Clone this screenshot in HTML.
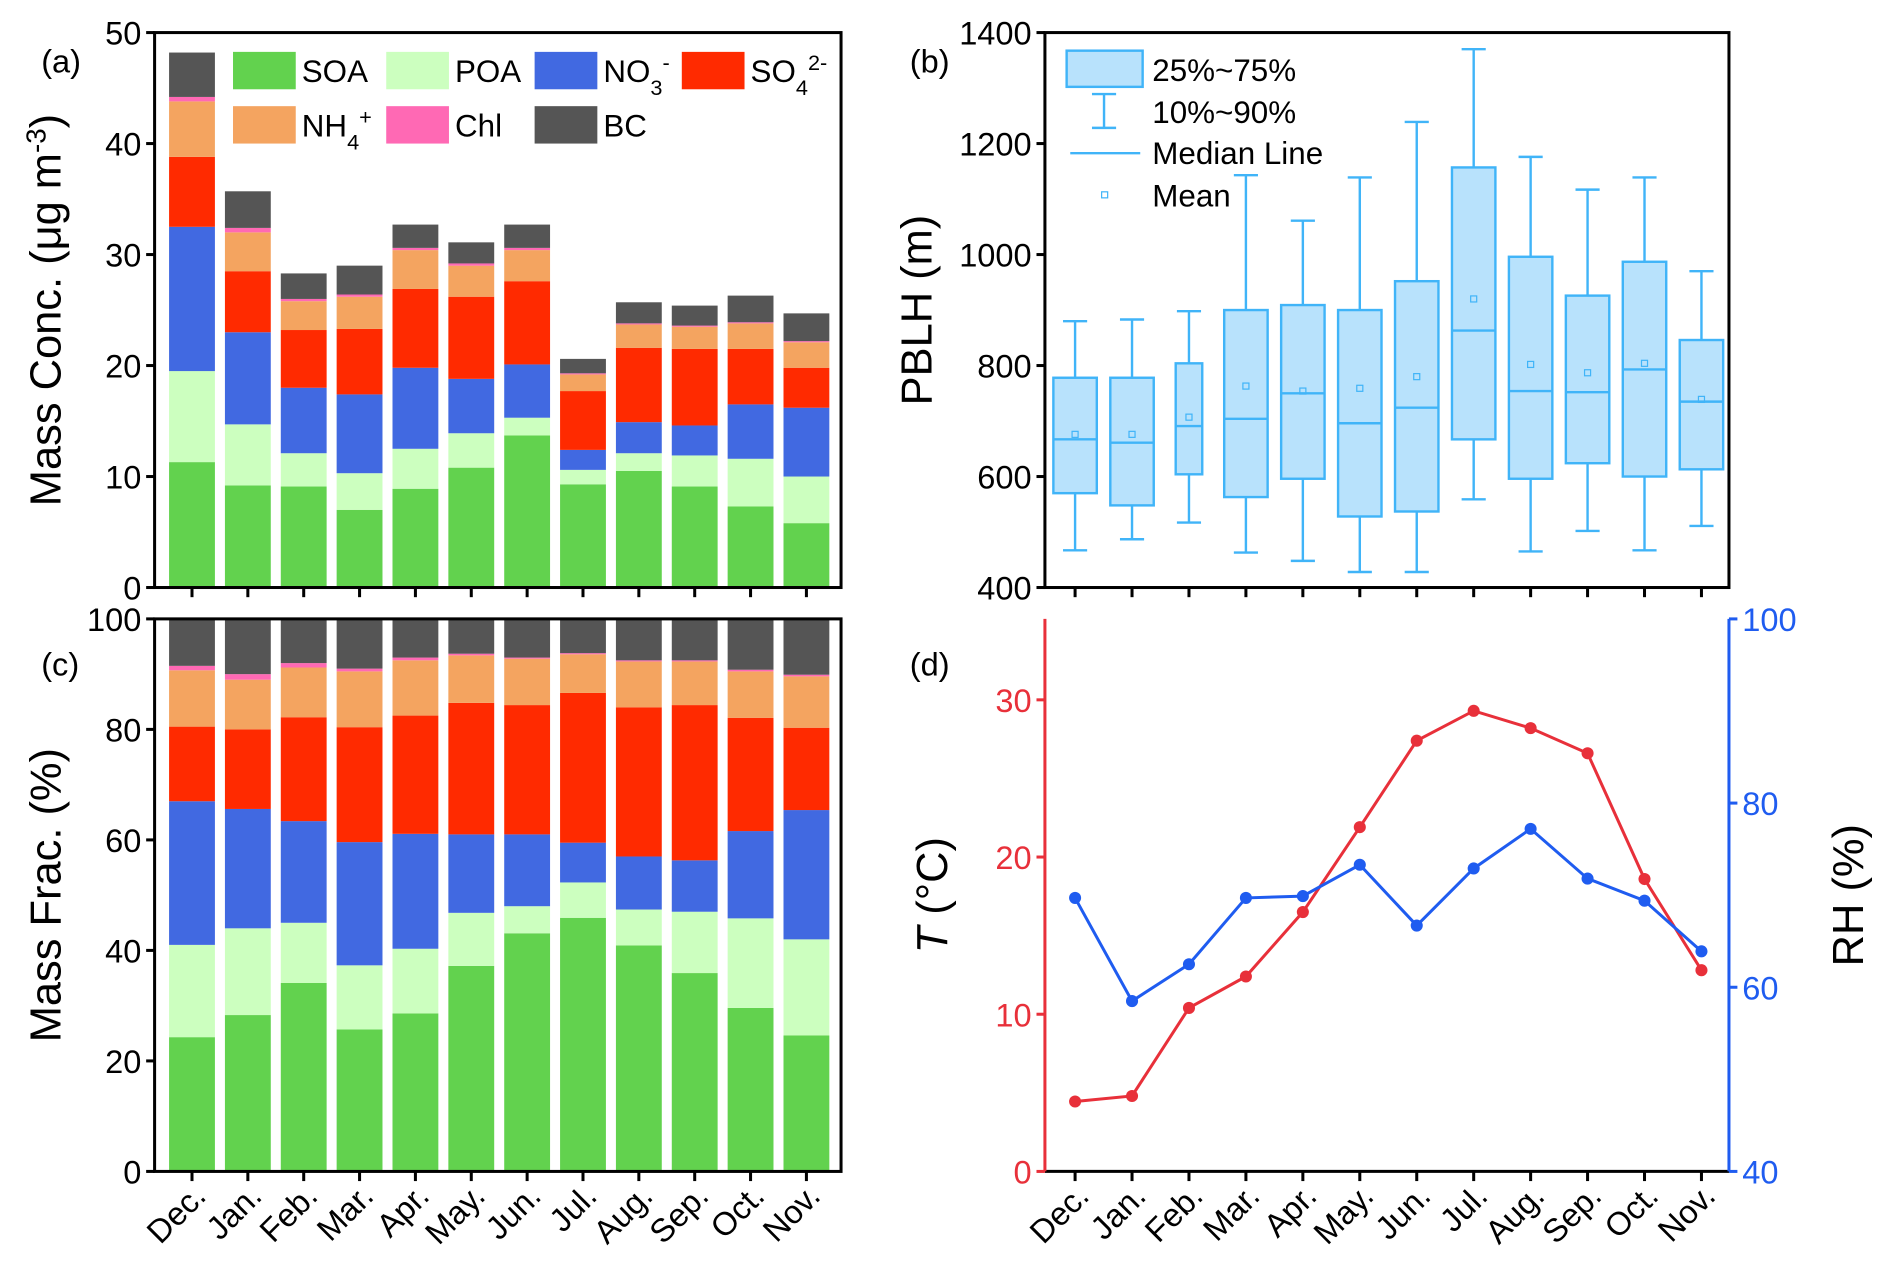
<!DOCTYPE html>
<html><head><meta charset="utf-8"><style>
html,body{margin:0;padding:0;background:#fff;}
svg{display:block;font-family:"Liberation Sans",Arial,sans-serif;}
</style></head><body>
<svg id="chart" width="1892" height="1280" viewBox="0 0 1568 1061" xmlns="http://www.w3.org/2000/svg"></svg>
<script>
const months=["Dec.","Jan.","Feb.","Mar.","Apr.","May.","Jun.","Jul.","Aug.","Sep.","Oct.","Nov."];
const compNames=["SOA","POA","NO3","SO4","NH4","Chl","BC"];
const concSOA=[11.3,9.2,9.1,7.0,8.9,10.8,13.7,9.3,10.5,9.1,7.3,5.8];
const concPOA=[8.2,5.5,3.0,3.3,3.6,3.1,1.6,1.3,1.6,2.8,4.3,4.2];
const concNO3=[13.0,8.3,5.9,7.1,7.3,4.9,4.8,1.8,2.8,2.7,4.9,6.2];
const concSO4=[6.3,5.5,5.2,5.9,7.1,7.4,7.5,5.3,6.7,6.9,5.0,3.6];
const concNH4=[5.0,3.5,2.6,2.9,3.5,2.8,2.8,1.5,2.1,2.0,2.3,2.3];
const concChl=[0.4,0.4,0.2,0.2,0.2,0.2,0.2,0.1,0.1,0.1,0.1,0.1];
const concBC=[4.0,3.3,2.3,2.6,2.1,1.9,2.1,1.3,1.9,1.8,2.4,2.5];
const fracSOA=[24.3,28.3,34.1,25.7,28.6,37.2,43.1,45.9,40.9,35.9,29.6,24.6];
const fracPOA=[16.7,15.7,10.9,11.6,11.7,9.6,4.9,6.4,6.5,11.1,16.2,17.4];
const fracNO3=[26.0,21.6,18.4,22.3,20.8,14.2,13.0,7.2,9.6,9.3,15.8,23.4];
const fracSO4=[13.5,14.4,18.8,20.8,21.4,23.8,23.4,27.1,27.0,28.1,20.5,14.9];
const fracNH4=[10.2,9.0,9.0,10.1,10.0,8.6,8.4,7.0,8.3,7.9,8.4,9.3];
const fracChl=[0.8,1.0,0.8,0.5,0.5,0.3,0.2,0.2,0.2,0.2,0.3,0.3];
const fracBC=[8.5,10.0,8.0,9.0,7.0,6.3,7.0,6.2,7.5,7.5,9.2,10.1];
const pblhP10=[467,487,517,463,448,428,428,559,465,502,467,511];
const pblhP25=[570,548,604,563,596,528,537,667,596,624,600,613];
const pblhMed=[667,661,691,704,750,696,724,863,754,752,793,735];
const pblhMean=[676,676,707,763,754,759,780,920,802,787,804,739];
const pblhP75=[778,778,804,900,909,900,952,1157,996,926,987,846];
const pblhP90=[880,883,898,1143,1061,1139,1239,1370,1176,1117,1139,970];
const tempT=[4.45,4.8,10.4,12.4,16.5,21.9,27.4,29.3,28.2,26.6,18.6,12.8];
const relRH=[69.7,58.5,62.5,69.7,69.9,73.3,66.7,72.9,77.2,71.8,69.4,63.9];
const ticksA=[0,10,20,30,40,50];
const ticksB=[400,600,800,1000,1200,1400];
const ticksC=[0,20,40,60,80,100];
const ticksT=[0,10,20,30];
const ticksRH=[40,60,80,100];

const colors=["#62d24e","#ccffbf","#4169e1","#ff2a00","#f4a460","#ff69b4","#555555"];
const NS="http://www.w3.org/2000/svg";
const svg=document.getElementById('chart');
function el(tag,attrs,parent,text){const e=document.createElementNS(NS,tag);for(const k in attrs)e.setAttribute(k,attrs[k]);if(text!==undefined)e.textContent=text;(parent||svg).appendChild(e);return e;}
const xL=i=>159+i*46.3;
const xR=i=>891+i*47.2;
const yA=v=>487-v*9.2;
const yC=v=>971-v*4.58;
const yB=v=>487-(v-400)*0.46;
const yT=v=>971-v*13.03;
const yRH=v=>971-(v-40)*7.633;

function stack(g,arrs,yf,name){
  for(let i=0;i<12;i++){let cum=0;
    arrs.forEach((a,k)=>{const y0=yf(cum);cum+=a[i];const y1=yf(cum);
      const r=el('rect',{x:xL(i)-19,y:y1,width:38,height:Math.max(0,y0-y1),fill:colors[k]},g);
      
      });}
}
function frame(x0,y0,x1,y1,name,color){
  const r=el('rect',{x:x0,y:y0,width:x1-x0,height:y1-y0,fill:'none',stroke:color||'#000','stroke-width':2.5});
  
}
function yTicks(ticks,yf,x,side,color,name){
  ticks.forEach(t=>{const y=yf(t);
    el('line',{x1:x,x2:x+(side<0?-7:7),y1:y,y2:y,stroke:color,'stroke-width':2.5});
    const tx=el('text',{x:side<0?x-11:x+11,y:y+10,'font-size':27,'text-anchor':side<0?'end':'start',fill:color},svg,String(t));
    });
}
function xTicks(xf,y,labels){
  for(let i=0;i<12;i++){el('line',{x1:xf(i),x2:xf(i),y1:y,y2:y+8,stroke:'#000','stroke-width':2.5});
    if(labels){const t=el('text',{x:xf(i)+13,y:y+22,'font-size':27,'text-anchor':'end',transform:`rotate(-45 ${xf(i)+13} ${y+22})`},svg,months[i]);
      }}
}
function label(x,y,txt,size,rot,name,color){
  const t=el('text',{x:x,y:y,'font-size':size,'text-anchor':'middle',fill:color||'#000',transform:rot?`rotate(-90 ${x} ${y})`:''},svg);
  t.innerHTML=txt;return t;
}

// Panel a
const ga=el('g',{});
stack(ga,[concSOA,concPOA,concNO3,concSO4,concNH4,concChl,concBC],yA,'conc');
frame(128,27,697,487,'panel-a-frame');
yTicks(ticksA,yA,128,-1,'#000','panel-a-y');
xTicks(xL,487,false);
label(50,257,'Mass Conc. (μg m<tspan baseline-shift="super" font-size="23">-3</tspan>)',36,true,'panel-a-y-axis-title');
el('text',{x:34,y:60,'font-size':27},svg,'(a)');
const legA=[[193,43,0,'SOA'],[320,43,1,'POA'],[443,43,2,'NO<tspan baseline-shift="sub" font-size="18">3</tspan><tspan baseline-shift="super" font-size="18">-</tspan>'],[565,43,3,'SO<tspan baseline-shift="sub" font-size="18">4</tspan><tspan baseline-shift="super" font-size="18">2-</tspan>'],[193,88,4,'NH<tspan baseline-shift="sub" font-size="18">4</tspan><tspan baseline-shift="super" font-size="18">+</tspan>'],[320,88,5,'Chl'],[443,88,6,'BC']];
legA.forEach(l=>{const g=el('g',{});
  el('rect',{x:l[0],y:l[1],width:52,height:31,fill:colors[l[2]]},g);
  const t=el('text',{x:l[0]+57,y:l[1]+25,'font-size':26},g);t.innerHTML=l[3];});

// Panel c
const gc=el('g',{});
stack(gc,[fracSOA,fracPOA,fracNO3,fracSO4,fracNH4,fracChl,fracBC],yC,'frac');
frame(128,513,697,971,'panel-c-frame');
yTicks(ticksC,yC,128,-1,'#000','panel-c-y');
xTicks(xL,971,true);
label(50,742,'Mass Frac. (%)',36,true,'panel-c-y-axis-title');
el('text',{x:34,y:560,'font-size':27},svg,'(c)');

// Panel b
const bc='#40b4f8',bf='#b8e2fc';
const gb=el('g',{});
for(let i=0;i<12;i++){const x=xR(i),w=(i==2?22:36);
  const g=el('g',{},gb);
  el('line',{x1:x,x2:x,y1:yB(pblhP90[i]),y2:yB(pblhP10[i]),stroke:bc,'stroke-width':2},g);
  el('line',{x1:x-10,x2:x+10,y1:yB(pblhP90[i]),y2:yB(pblhP90[i]),stroke:bc,'stroke-width':2},g);
  el('line',{x1:x-10,x2:x+10,y1:yB(pblhP10[i]),y2:yB(pblhP10[i]),stroke:bc,'stroke-width':2},g);
  el('rect',{x:x-w/2,y:yB(pblhP75[i]),width:w,height:yB(pblhP25[i])-yB(pblhP75[i]),fill:bf,stroke:bc,'stroke-width':2},g);
  el('line',{x1:x-w/2,x2:x+w/2,y1:yB(pblhMed[i]),y2:yB(pblhMed[i]),stroke:bc,'stroke-width':2},g);
  el('rect',{x:x-2.5,y:yB(pblhMean[i])-2.5,width:5,height:5,fill:'none',stroke:bc,'stroke-width':1},g);}
frame(866,27,1433,487,'panel-b-frame');
yTicks(ticksB,yB,866,-1,'#000','panel-b-y');
xTicks(xR,487,false);
label(772,257,'PBLH (m)',36,true,'panel-b-y-axis-title');
el('text',{x:754,y:60,'font-size':27},svg,'(b)');
const lb=el('g',{});
el('rect',{x:884,y:42,width:63,height:30,fill:bf,stroke:bc,'stroke-width':2},lb);
el('line',{x1:915,x2:915,y1:78,y2:106,stroke:bc,'stroke-width':2},lb);
el('line',{x1:905,x2:925,y1:78,y2:78,stroke:bc,'stroke-width':2},lb);
el('line',{x1:905,x2:925,y1:106,y2:106,stroke:bc,'stroke-width':2},lb);
el('line',{x1:887,x2:945,y1:127,y2:127,stroke:bc,'stroke-width':2},lb);
el('rect',{x:913,y:159,width:5,height:5,fill:'none',stroke:bc,'stroke-width':1},lb);
[['25%~75%',67],['10%~90%',102],['Median Line',136],['Mean',171]].forEach(a=>el('text',{x:955,y:a[1],'font-size':26},lb,a[0]));

// Panel d
const red='#e8303a',blue='#1f5cf0';
el('line',{x1:866,x2:1433,y1:971,y2:971,stroke:'#000','stroke-width':2.5});
el('line',{x1:866,x2:866,y1:513,y2:971,stroke:red,'stroke-width':2.5});
el('line',{x1:1433,x2:1433,y1:513,y2:971,stroke:blue,'stroke-width':2.5});
yTicks(ticksT,yT,866,-1,red,'panel-d-t');
yTicks(ticksRH,yRH,1433,1,blue,'panel-d-rh');
xTicks(xR,971,true);
label(785,742,'<tspan font-style="italic">T</tspan> (°C)',36,true,'panel-d-left-axis-title');
label(1544,742,'RH (%)',36,true,'panel-d-right-axis-title');
el('text',{x:754,y:560,'font-size':27},svg,'(d)');
function series(vals,yf,color,name){
  const p=el('polyline',{points:vals.map((v,i)=>xR(i)+','+yf(v)).join(' '),fill:'none',stroke:color,'stroke-width':2.5});
  
  vals.forEach((v,i)=>{const c=el('circle',{cx:xR(i),cy:yf(v),r:5,fill:color});
    });
}
series(tempT,yT,red,'temperature');
series(relRH,yRH,blue,'humidity');
</script>
</body></html>
